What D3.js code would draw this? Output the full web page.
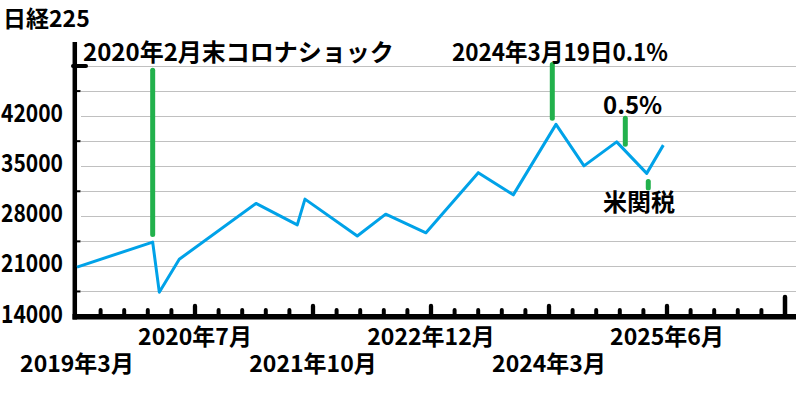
<!DOCTYPE html>
<html>
<head>
<meta charset="utf-8">
<script src="https://cdn.jsdelivr.net/npm/d3@7/dist/d3.min.js"></script>
<style>
  html, body { margin: 0; padding: 0; background: #fff; }
  svg { display: block; }
  text { font-family: "Noto Sans CJK JP", "Noto Sans", sans-serif; font-weight: 700; fill: #000; }
</style>
</head>
<body>
<svg id="chart" width="796" height="420"></svg>
<script>
// ---- data (months counted from 2019年3月) ----
const months = [0, 9.62, 10.46, 13.0, 22.75, 28.0, 28.98, 35.63, 39.24, 44.36, 51.01, 55.46, 60.89, 64.45, 68.6, 72.42, 74.53];
const nikkei = [20900, 24400, 17400, 22000, 29800, 26800, 30400, 25250, 28300, 25700, 34100, 31000, 40850, 35050, 38400, 34000, 37950];

const tickMonths = [0, 15, 30, 45, 60, 75];
const tickLabels = ["2019年3月", "2020年7月", "2021年10月", "2022年12月", "2024年3月", "2025年6月"];
const yLabels = [14000, 21000, 28000, 35000, 42000];

const markMonths = [9.62, 60.42, 69.7, 72.62];
const markTop = [48400, 49200, 41700, 32850];
const markBottom = [25450, 41700, 38080, 31950];

const title = "日経225";
const notes = ["2020年2月末コロナショック", "2024年3月19日0.1%", "0.5%", "米関税"];

// ---- scales ----
const svg = d3.select("#chart");
const x = d3.scaleLinear().domain([0, 90]).range([77, 785]);
const y = d3.scaleLinear().domain([14000, 52500]).range([316.5, 41]);

// gridlines
svg.append("g").selectAll("line")
  .data(d3.range(17500, 52500, 3500))
  .join("line")
  .attr("x1", 81).attr("x2", 796)
  .attr("y1", d => Math.round(y(d)) + 0.5).attr("y2", d => Math.round(y(d)) + 0.5)
  .attr("stroke", "#c0c0c0").attr("stroke-width", 1.2);

// y minor nubs inside
svg.append("g").selectAll("line")
  .data(d3.range(17500, 52500, 7000))
  .join("line")
  .attr("x1", 76).attr("x2", 80.5)
  .attr("y1", d => y(d)).attr("y2", d => y(d))
  .attr("stroke", "#000").attr("stroke-width", 2);

// y thick tick at 49000
svg.append("line")
  .attr("x1", 73).attr("x2", 86).attr("y1", y(49000)).attr("y2", y(49000))
  .attr("stroke", "#000").attr("stroke-width", 4).attr("stroke-linecap", "round");

// y axis labels
const yAxis = svg.append("g").attr("transform", "translate(75,0)")
  .call(d3.axisLeft(y).tickValues(yLabels).tickSize(0).tickPadding(12).tickFormat(d3.format("d")));
yAxis.select(".domain").remove();
yAxis.selectAll("text").attr("font-size", 25).attr("dy", "0.22em")
  .attr("textLength", 62).attr("lengthAdjust", "spacingAndGlyphs")
  .style("font-family", '"Noto Sans CJK JP", sans-serif').style("font-weight", 700);

// x ticks (minor every 3 months, major every 15)
const minor = d3.range(3, 90, 3).filter(m => m % 15 !== 0);
svg.append("g").selectAll("line")
  .data(minor).join("line")
  .attr("x1", d => x(d)).attr("x2", d => x(d))
  .attr("y1", 316).attr("y2", 310)
  .attr("stroke", "#000").attr("stroke-width", 4).attr("stroke-linecap", "round");
svg.append("g").selectAll("line")
  .data([15, 30, 45, 60, 75]).join("line")
  .attr("x1", d => x(d)).attr("x2", d => x(d))
  .attr("y1", 316).attr("y2", 306)
  .attr("stroke", "#000").attr("stroke-width", 4.3).attr("stroke-linecap", "round");
svg.append("line")
  .attr("x1", x(90)).attr("x2", x(90)).attr("y1", 316).attr("y2", 297)
  .attr("stroke", "#000").attr("stroke-width", 4.5).attr("stroke-linecap", "round");

// axis lines
svg.append("line").attr("x1", 74.8).attr("x2", 74.8).attr("y1", 42).attr("y2", 319.5)
  .attr("stroke", "#000").attr("stroke-width", 4.5);
svg.append("line").attr("x1", 72.5).attr("x2", 796).attr("y1", 316.8).attr("y2", 316.8)
  .attr("stroke", "#000").attr("stroke-width", 5.5);

// x labels (alternating rows)
svg.append("g").selectAll("text")
  .data(tickMonths).join("text")
  .attr("x", d => x(d))
  .attr("y", (d, i) => i % 2 === 0 ? 372 : 345)
  .attr("text-anchor", "middle")
  .attr("font-size", 23)
  .text((d, i) => tickLabels[i]);

// nikkei line
svg.append("path")
  .datum(months.map((m, i) => [m, nikkei[i]]))
  .attr("fill", "none")
  .attr("stroke", "#00a2e8")
  .attr("stroke-width", 3)
  .attr("stroke-linejoin", "round")
  .attr("d", d3.line().x(d => x(d[0])).y(d => y(d[1])));

// green markers
svg.append("g").selectAll("line")
  .data(markMonths).join("line")
  .attr("x1", d => x(d)).attr("x2", d => x(d))
  .attr("y1", (d, i) => y(markTop[i])).attr("y2", (d, i) => y(markBottom[i]))
  .attr("stroke", "#22b14c").attr("stroke-width", 5).attr("stroke-linecap", "round");

// title & annotations
svg.append("text").attr("x", 3).attr("y", 27).attr("font-size", 23).text(title);
svg.append("text").attr("x", 83).attr("y", 61).attr("font-size", 24).text(notes[0]);
svg.append("text").attr("x", 452).attr("y", 61).attr("font-size", 24)
  .attr("textLength", 216).attr("lengthAdjust", "spacingAndGlyphs").text(notes[1]);
svg.append("text").attr("x", 603).attr("y", 114).attr("font-size", 24).text(notes[2]);
svg.append("text").attr("x", 603).attr("y", 211).attr("font-size", 24).text(notes[3]);
</script>
</body>
</html>
